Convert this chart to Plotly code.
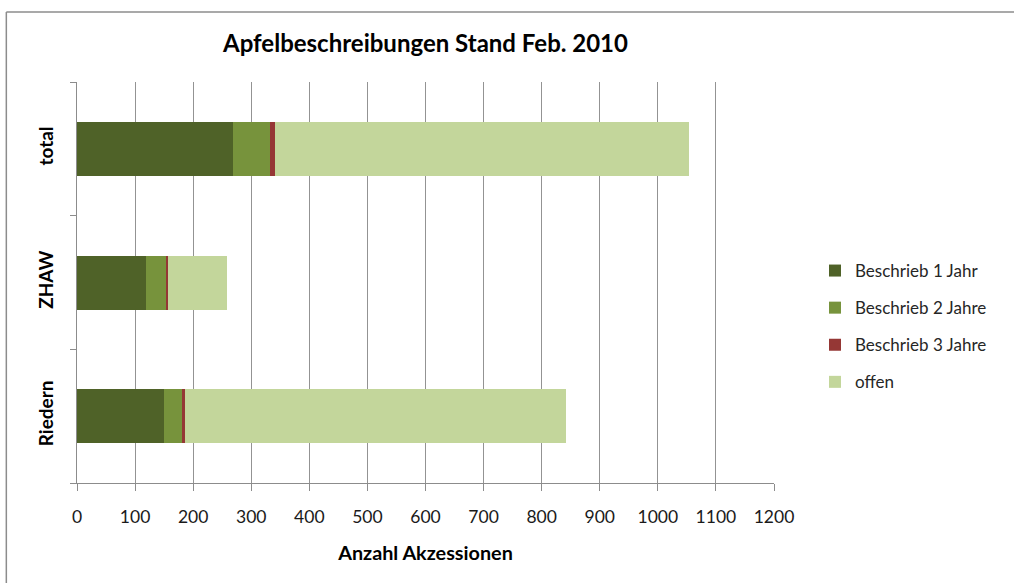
import plotly.graph_objects as go

categories = ["Riedern", "ZHAW", "total"]
series_names = ["Beschrieb 1 Jahr", "Beschrieb 2 Jahre", "Beschrieb 3 Jahre", "offen"]
beschrieb_1 = [150, 119, 268]
beschrieb_2 = [30, 35, 65]
beschrieb_3 = [6, 2, 8]
offen = [656, 103, 712]
x_ticks = list(range(0, 1300, 100))

colors = ["#4F6228", "#77933C", "#953735", "#C3D69B"]
values = [beschrieb_1, beschrieb_2, beschrieb_3, offen]

FONT = "Lato"
fig = go.Figure()
for name, vals, col in zip(series_names, values, colors):
    fig.add_trace(go.Bar(
        y=categories, x=vals, name=name, orientation="h",
        marker=dict(color=col, line=dict(width=0)),
        legendgroup=name,
    ))

L, R, T, B = 76.7, 774.0, 82.0, 483.0
W, H = 1014, 583
pw, ph = R - L, B - T

def px2x(p):
    return (p - L) / pw

def py2y(p):
    return (B - p) / ph

fig.update_layout(
    width=W, height=H,
    margin=dict(l=L, r=W - R, t=T, b=H - B, pad=0),
    barmode="stack",
    bargap=0.596,
    plot_bgcolor="white",
    paper_bgcolor="white",
    font=dict(family=FONT, size=17, color="#1a1a1a"),
    title=dict(text="<b>Apfelbeschreibungen Stand Feb. 2010</b>",
               x=0.5, xref="paper", xanchor="center",
               y=1 - 44 / H, yanchor="middle",
               font=dict(family=FONT, size=24, color="#000")),
    legend=dict(x=px2x(815), xanchor="left", y=py2y(253), yanchor="top",
                traceorder="grouped", tracegroupgap=12,
                font=dict(family=FONT, size=17, color="#262626"),
                bgcolor="rgba(0,0,0,0)"),
    xaxis=dict(range=[0, 1200], tickvals=x_ticks, ticktext=[str(v) for v in x_ticks],
               showgrid=True, gridcolor="#939393", gridwidth=1,
               showline=True, linecolor="#8c8c8c", linewidth=1,
               ticks="outside", ticklen=7, tickcolor="#8c8c8c",
               zeroline=False, ticklabelstandoff=11,
               tickfont=dict(family=FONT, size=17.5, color="#1a1a1a"),
               title=dict(text="<b>Anzahl Akzessionen</b>", standoff=20,
                          font=dict(family=FONT, size=19.8, color="#000"))),
    yaxis=dict(type="category", categoryorder="array", categoryarray=categories,
               range=[-0.5, 2.5],
               showgrid=False, showline=True, linecolor="#8c8c8c", linewidth=1,
               ticks="outside", ticklen=6, tickcolor="#8c8c8c",
               tickson="boundaries", tickangle=-90,
               ticklabelstandoff=15,
               tickfont=dict(family=FONT, size=19, color="#000"),
               tickprefix="<b>", ticksuffix="</b>"),
)

# outer chart frame (only top and left edges are visible in the reference)
fig.add_shape(type="line", xref="paper", yref="paper",
              x0=px2x(6), x1=px2x(1020), y0=py2y(12), y1=py2y(12),
              line=dict(color="#8c8c8c", width=1.5), layer="below")
fig.add_shape(type="line", xref="paper", yref="paper",
              x0=px2x(6), x1=px2x(6), y0=py2y(12), y1=py2y(590),
              line=dict(color="#8c8c8c", width=1.5), layer="below")

fig.write_html("out.html", config={"displayModeBar": False},
               post_script="document.body.style.margin='0px';")
